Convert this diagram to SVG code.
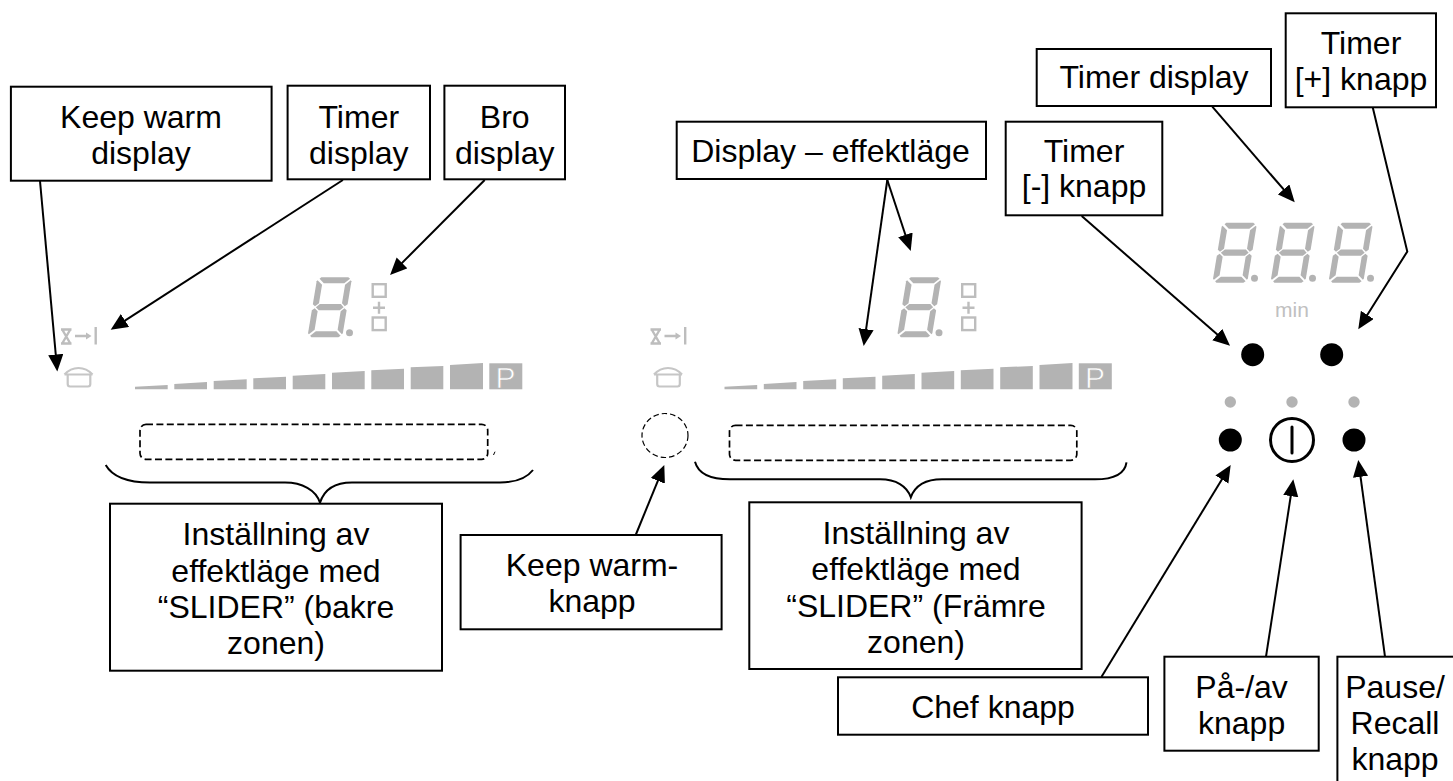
<svg xmlns="http://www.w3.org/2000/svg" xmlns:xlink="http://www.w3.org/1999/xlink" width="1453" height="781" viewBox="0 0 1453 781">
<style>
text{font-family:"Liberation Sans",Arial,sans-serif;font-size:32px;fill:#000;text-anchor:middle}
.box{fill:#fff;stroke:#000;stroke-width:2}
.conn{fill:none;stroke:#000;stroke-width:2}
.arr{marker-end:url(#ah)}
.brace{fill:none;stroke:#000;stroke-width:2}
.dash{fill:none;stroke:#000;stroke-width:1.7;stroke-dasharray:7 3.4}
.seg{fill:#b3b3b3}
.ico{fill:none;stroke:#bdbdbd;stroke-width:2.4}
.pot{fill:none;stroke:#c6c6c6;stroke-width:2.2}
.key{fill:#000}
.led{fill:#b3b3b3}
text.p{fill:#fff;font-size:30px;text-anchor:start;stroke:#b3b3b3;stroke-width:.7}
text.min{fill:#c0c0c0;font-size:21px}
</style>
<defs>
<marker id="ah" markerUnits="userSpaceOnUse" markerWidth="18" markerHeight="16" refX="7" refY="7.6" orient="auto"><path d="M0 0L17 7.6L0 15.2Z" fill="#000"/></marker>
<g id="digit">
<g transform="translate(317.3 277.3) skewX(-9.4)">
<path class="seg" d="M2.5 1.5L4 0H31L33 1.5L28 6H7.5Z"/>
<path class="seg" d="M0.8 3L6 7.5V26L2.5 29L0 27V4Z"/>
<path class="seg" d="M34 3L34.8 4V27L32.3 29L29 26V7.5Z"/>
<path class="seg" d="M3.5 30L7 26.8H28L31.3 30L28 33H7Z"/>
<path class="seg" d="M0 33L2.5 31L6 34V52.5L1 57L0 56Z"/>
<path class="seg" d="M34.8 33L32.3 31L29 34V52.5L34 57L34.8 56Z"/>
<path class="seg" d="M2.5 58.5L7.5 54H28L33 58.5L31 60H4Z"/>
</g>
<circle class="seg" cx="349.5" cy="332.8" r="3.5"/>
</g>
<g id="panel">
<use xlink:href="#digit" href="#digit"/>
<rect class="ico" x="372.7" y="284.2" width="13" height="12.6"/>
<rect class="ico" x="372.7" y="317.5" width="13" height="12.6"/>
<path class="ico" d="M373 307.7H385M379 301.7V313.7"/>
<path class="ico" d="M61 329.5H71.5M61 343.5H71.5M62.5 330L70 343M70 330L62.5 343"/>
<path class="ico" d="M75 336H87M95.7 327V344.5"/>
<path fill="#bdbdbd" d="M86 332.5L91.5 336L86 339.5Z"/>
<path class="pot" d="M64.5 374.5C69 369.5 75 368 78.5 368C82 368 88 369.5 92.5 374.5M64.5 374.5H92.5M67.7 374.5V384C67.7 385.8 68.7 386.5 70 386.5H88C89.3 386.5 90.3 385.8 90.3 384V374.5"/>
<path class="seg" d="M135 386.7L167.7 385V389.3H135Z"/>
<path class="seg" d="M174.3 384L207 382V389.3H174.3Z"/>
<path class="seg" d="M213.7 381L246.7 379.3V389.3H213.7Z"/>
<path class="seg" d="M253.3 378.3L286 376.7V389.3H253.3Z"/>
<path class="seg" d="M292.7 375.7L325.3 374V389.3H292.7Z"/>
<path class="seg" d="M332 372.7L364.7 371V389.3H332Z"/>
<path class="seg" d="M371.3 370.3L404 368.7V389.3H371.3Z"/>
<path class="seg" d="M410.7 367.3L443.3 366V389.3H410.7Z"/>
<path class="seg" d="M450 365L483 363V389.3H450Z"/>
<rect class="seg" x="489.3" y="363.3" width="33" height="26"/>
</g>
</defs>

<g id="display-left"><use xlink:href="#panel" href="#panel"/><text class="p" x="495.4" y="388.3">P</text></g>
<g id="display-right"><use xlink:href="#panel" href="#panel" transform="translate(589.5 0)"/><text class="p" x="1084.9" y="388.3">P</text></g>

<g id="timer-digits">
<use xlink:href="#digit" href="#digit" transform="translate(905 -54.6)"/>
<use xlink:href="#digit" href="#digit" transform="translate(963 -54.6)"/>
<use xlink:href="#digit" href="#digit" transform="translate(1021 -54.6)"/>
<text class="min" x="1292" y="316.7">min</text>
</g>

<g id="slider-left"><rect class="dash" x="140" y="424.3" width="347.7" height="35" rx="6"/><path d="M495 451.7L493.5 455" fill="none" stroke="#000" stroke-width="1"/></g>
<g id="slider-right"><rect class="dash" x="729.5" y="425.3" width="347.3" height="35" rx="6"/></g>
<g id="keep-warm-key"><ellipse cx="665" cy="435.5" rx="23" ry="22" fill="none" stroke="#000" stroke-width="1.2" stroke-dasharray="5.5 3"/></g>

<g id="keys">
<circle class="key" cx="1252.7" cy="354.7" r="11.5"/>
<circle class="key" cx="1331.7" cy="354.7" r="11.5"/>
<circle class="led" cx="1230.3" cy="402" r="5.7"/>
<circle class="led" cx="1292" cy="402" r="5.7"/>
<circle class="led" cx="1354" cy="402" r="5.7"/>
<circle class="key" cx="1230.3" cy="440" r="11.5"/>
<circle class="key" cx="1354" cy="440" r="11.5"/>
<circle cx="1292" cy="440" r="21.5" fill="none" stroke="#000" stroke-width="3"/>
<path d="M1292 427V453" fill="none" stroke="#000" stroke-width="3" stroke-linecap="round"/>
</g>

<g id="connectors">
<path class="conn arr" d="M40 181L56.4 361.5"/>
<path class="conn arr" d="M342.9 180L119.1 324.3"/>
<path class="conn arr" d="M484.7 180L397.1 267.9"/>
<path class="conn arr" d="M887.3 180L907.6 241.5"/>
<path class="conn arr" d="M887.3 180L865.1 336.1"/>
<path class="conn arr" d="M1081.7 216L1222.5 339.1"/>
<path class="conn arr" d="M1212.3 106.7L1288.2 194.7"/>
<path class="conn arr" d="M1372.7 107.3L1407.3 251.5L1363.6 320.8"/>
<path class="conn arr" d="M1101.4 677L1225.5 473.5"/>
<path class="conn arr" d="M1266 656.7L1291.8 489.2"/>
<path class="conn arr" d="M1385 656.7L1359.6 469.9"/>
<path class="conn arr" d="M635.7 535L660.5 474.3"/>
<path class="brace" d="M105.7 465C112 476 125 482.5 150 482.5H285C302 482.5 316 490 320 502.7C324 490 333 482.5 352 482.5H500C515 482.5 526 479 533 470"/>
<path class="brace" d="M695 461.7C698 473 708 479.3 730 479.3H880C896 479.3 907 486 910.8 497.3C915 486 925 479.3 942 479.3H1095C1115 479.3 1125 473 1126.5 462.3"/>
</g>

<g id="n-keep-warm-display"><rect class="box" x="10.9" y="86.7" width="260.7" height="94"/><text x="141" y="128.3">Keep warm</text><text x="141" y="164.3">display</text></g>
<g id="n-timer-display-left"><rect class="box" x="287.6" y="85.7" width="142.4" height="93.6"/><text x="358.8" y="128.3">Timer</text><text x="358.8" y="164.3">display</text></g>
<g id="n-bro-display"><rect class="box" x="444.4" y="85.7" width="120.6" height="93.6"/><text x="504.7" y="128.3">Bro</text><text x="504.7" y="164.3">display</text></g>
<g id="n-display-effekt"><rect class="box" x="676.7" y="121.7" width="309.3" height="57.3"/><text x="830.5" y="161.7">Display – effektläge</text></g>
<g id="n-timer-minus"><rect class="box" x="1005.7" y="121.7" width="156.6" height="93.6"/><text x="1084" y="161.7">Timer</text><text x="1084" y="197.3">[-] knapp</text></g>
<g id="n-timer-display-right"><rect class="box" x="1036.7" y="49" width="234.3" height="57"/><text x="1154" y="88.3">Timer display</text></g>
<g id="n-timer-plus"><rect class="box" x="1285.7" y="13.3" width="150.3" height="94"/><text x="1361" y="54.3">Timer</text><text x="1361" y="90">[+] knapp</text></g>
<g id="n-slider-back"><rect class="box" x="110" y="503.7" width="332" height="167"/><text x="276" y="545">Inställning av</text><text x="276" y="581.5">effektläge med</text><text x="276" y="618">“SLIDER” (bakre</text><text x="276" y="654.3">zonen)</text></g>
<g id="n-keep-warm-knapp"><rect class="box" x="460.6" y="535" width="261" height="94.3"/><text x="592" y="575.7">Keep warm-</text><text x="592" y="611.7">knapp</text></g>
<g id="n-slider-front"><rect class="box" x="749.3" y="502.3" width="332.3" height="166.7"/><text x="916" y="543.5">Inställning av</text><text x="916" y="580">effektläge med</text><text x="916" y="616.7">“SLIDER” (Främre</text><text x="916" y="653">zonen)</text></g>
<g id="n-chef"><rect class="box" x="838" y="677.3" width="310" height="57.4"/><text x="993" y="718.3">Chef knapp</text></g>
<g id="n-pa-av"><rect class="box" x="1164.4" y="656.7" width="154.3" height="94"/><text x="1241.6" y="698">På-/av</text><text x="1241.6" y="734">knapp</text></g>
<g id="n-pause"><rect class="box" x="1337.4" y="656.7" width="125" height="135"/><text x="1395" y="698">Pause/</text><text x="1395" y="734">Recall</text><text x="1395" y="770">knapp</text></g>
</svg>
